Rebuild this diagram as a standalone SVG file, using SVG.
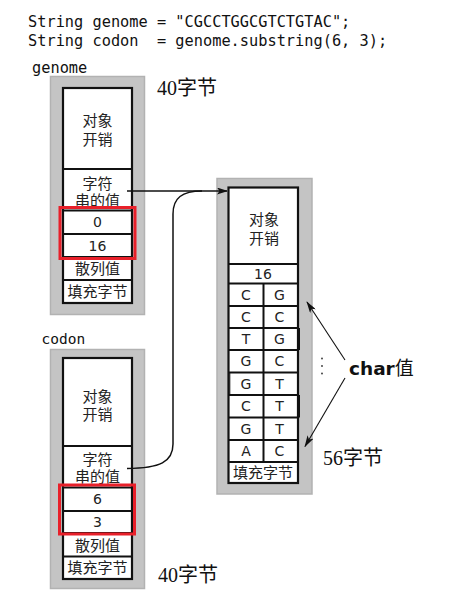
<svg xmlns="http://www.w3.org/2000/svg" width="459" height="600" viewBox="0 0 459 600">
<style>
.code{font-family:"DejaVu Sans Mono","Liberation Mono",monospace;font-size:15.3px;fill:#111}
.frame{fill:#c4c4c4;stroke:#b2b2b2;stroke-width:1.5}
.box{fill:#fff;stroke:#111;stroke-width:2.2}
.ln{stroke:#111;stroke-width:2;fill:none}
.cj{font-family:"Noto Sans CJK SC","Noto Sans",sans-serif;font-size:15px;fill:#222;text-anchor:middle}
.num{font-family:"DejaVu Sans","Noto Sans",sans-serif;font-size:14px;fill:#222;text-anchor:middle}
.sz{font-family:"Liberation Serif","Noto Sans CJK SC",serif;font-size:20px;fill:#111}
.red{fill:none;stroke:#e8202a;stroke-width:3}
.conn{fill:none;stroke:#111;stroke-width:1.5}
.thin{fill:none;stroke:#111;stroke-width:1.1}
</style>
<defs>
<marker id="ah" markerWidth="11" markerHeight="7" refX="10" refY="3.5" orient="auto" markerUnits="userSpaceOnUse">
<path d="M0,0 L11,3.5 L0,7 L2.5,3.5 z" fill="#111"/>
</marker>
<marker id="ah2" markerWidth="12" markerHeight="7" refX="11" refY="3.5" orient="auto" markerUnits="userSpaceOnUse">
<path d="M0,0 L12,3.5 L0,7 L3,3.5 z" fill="#111"/>
</marker>
</defs>

<g id="code">
<text class="code" x="28" y="27" xml:space="preserve">String genome = "CGCCTGGCGTCTGTAC";</text>
<text class="code" x="28" y="46" xml:space="preserve">String codon  = genome.substring(6, 3);</text>
</g>

<g id="genome">
<text class="code" x="32" y="72.5">genome</text>
<rect class="frame" x="50.5" y="76.5" width="94" height="238"/>
<rect class="box" x="63" y="88" width="69" height="215"/>
<line class="ln" x1="63" y1="169" x2="132" y2="169"/>
<line class="ln" x1="63" y1="210.5" x2="132" y2="210.5"/>
<line class="ln" x1="63" y1="234" x2="132" y2="234"/>
<line class="ln" x1="63" y1="257" x2="132" y2="257"/>
<line class="ln" x1="63" y1="280" x2="132" y2="280"/>
<text class="cj" x="97.5" y="125.5">对象</text>
<text class="cj" x="97.5" y="144.5">开销</text>
<text class="cj" x="97.5" y="188.5">字符</text>
<text class="cj" x="97.5" y="205.5">串的值</text>
<text class="num" x="97.5" y="227">0</text>
<text class="num" x="97.5" y="250.5">16</text>
<text class="cj" x="97.5" y="274">散列值</text>
<text class="cj" x="97.5" y="296.5">填充字节</text>
<rect class="red" x="60" y="207.5" width="75" height="51"/>
<text class="sz" x="157" y="95">40字节</text>
</g>

<g id="codon">
<text class="code" x="41.5" y="344" style="font-size:14.5px">codon</text>
<rect class="frame" x="50.5" y="349.5" width="94" height="239"/>
<rect class="box" x="63" y="358" width="69" height="221"/>
<line class="ln" x1="63" y1="446" x2="132" y2="446"/>
<line class="ln" x1="63" y1="487.5" x2="132" y2="487.5"/>
<line class="ln" x1="63" y1="511" x2="132" y2="511"/>
<line class="ln" x1="63" y1="533" x2="132" y2="533"/>
<line class="ln" x1="63" y1="556.5" x2="132" y2="556.5"/>
<text class="cj" x="97.5" y="401.5">对象</text>
<text class="cj" x="97.5" y="419.5">开销</text>
<text class="cj" x="97.5" y="464.5">字符</text>
<text class="cj" x="97.5" y="481.5">串的值</text>
<text class="num" x="97.5" y="504">6</text>
<text class="num" x="97.5" y="526.5">3</text>
<text class="cj" x="97.5" y="550.5">散列值</text>
<text class="cj" x="97.5" y="573">填充字节</text>
<rect class="red" x="59.5" y="485" width="75" height="49"/>
<text class="sz" x="158" y="582">40字节</text>
</g>

<g id="chars">
<rect class="frame" x="217" y="178.5" width="95" height="315.5"/>
<rect class="box" x="228.5" y="187.5" width="69.5" height="295.5"/>
<line class="ln" x1="228.5" y1="264" x2="298" y2="264"/>
<line class="ln" x1="228.5" y1="283.5" x2="298" y2="283.5"/>
<line class="ln" x1="228.5" y1="306" x2="298" y2="306"/>
<line class="ln" x1="228.5" y1="328" x2="298" y2="328"/>
<line class="ln" x1="228.5" y1="350" x2="298" y2="350"/>
<line class="ln" x1="228.5" y1="372.5" x2="298" y2="372.5"/>
<line class="ln" x1="228.5" y1="395" x2="298" y2="395"/>
<line class="ln" x1="228.5" y1="417.5" x2="298" y2="417.5"/>
<line class="ln" x1="228.5" y1="440" x2="298" y2="440"/>
<line class="ln" x1="228.5" y1="462" x2="298" y2="462"/>
<line class="ln" x1="263.5" y1="283.5" x2="263.5" y2="462"/>
<line x1="299.5" y1="328" x2="299.5" y2="350" stroke="#111" stroke-width="1"/>
<line x1="299.5" y1="395" x2="299.5" y2="417.5" stroke="#111" stroke-width="1"/>
<line x1="229.8" y1="372.5" x2="229.8" y2="395" stroke="#111" stroke-width="1"/>
<text class="cj" x="264" y="224.5">对象</text>
<text class="cj" x="264" y="244">开销</text>
<text class="num" x="263" y="279">16</text>
<g class="num">
<text x="246" y="299.5">C</text><text x="279.5" y="299.5">G</text>
<text x="246" y="321.5">C</text><text x="279.5" y="321.5">C</text>
<text x="246" y="343.5">T</text><text x="279.5" y="343.5">G</text>
<text x="246" y="366">G</text><text x="279.5" y="366">C</text>
<text x="246" y="388.5">G</text><text x="279.5" y="388.5">T</text>
<text x="246" y="411">C</text><text x="279.5" y="411">T</text>
<text x="246" y="433.5">G</text><text x="279.5" y="433.5">T</text>
<text x="246" y="455.5">A</text><text x="279.5" y="455.5">C</text>
</g>
<text class="cj" x="263" y="478">填充字节</text>
<text class="sz" x="323" y="465">56字节</text>
</g>

<g id="charlabel">
<text x="349" y="375" style="font-family:'DejaVu Sans',sans-serif;font-weight:bold;font-size:18.5px;fill:#111">char<tspan style="font-family:'Noto Sans CJK SC',sans-serif;font-weight:normal;font-size:19px">值</tspan></text>
<g fill="#333">
<circle cx="322" cy="358.5" r="0.9"/>
<circle cx="322" cy="366" r="0.9"/>
<circle cx="322" cy="373.5" r="0.9"/>
</g>
</g>

<g id="connectors">
<line class="conn" x1="127" y1="191" x2="227" y2="191" marker-end="url(#ah)"/>
<path class="conn" d="M127,468.5 C160,468 173,462 173,444 L173,214 C173,198 182,191 202,191"/>
<line class="thin" x1="345" y1="360" x2="307" y2="302" marker-end="url(#ah2)"/>
<line class="thin" x1="345" y1="378" x2="305" y2="446.5" marker-end="url(#ah2)"/>
</g>
</svg>
